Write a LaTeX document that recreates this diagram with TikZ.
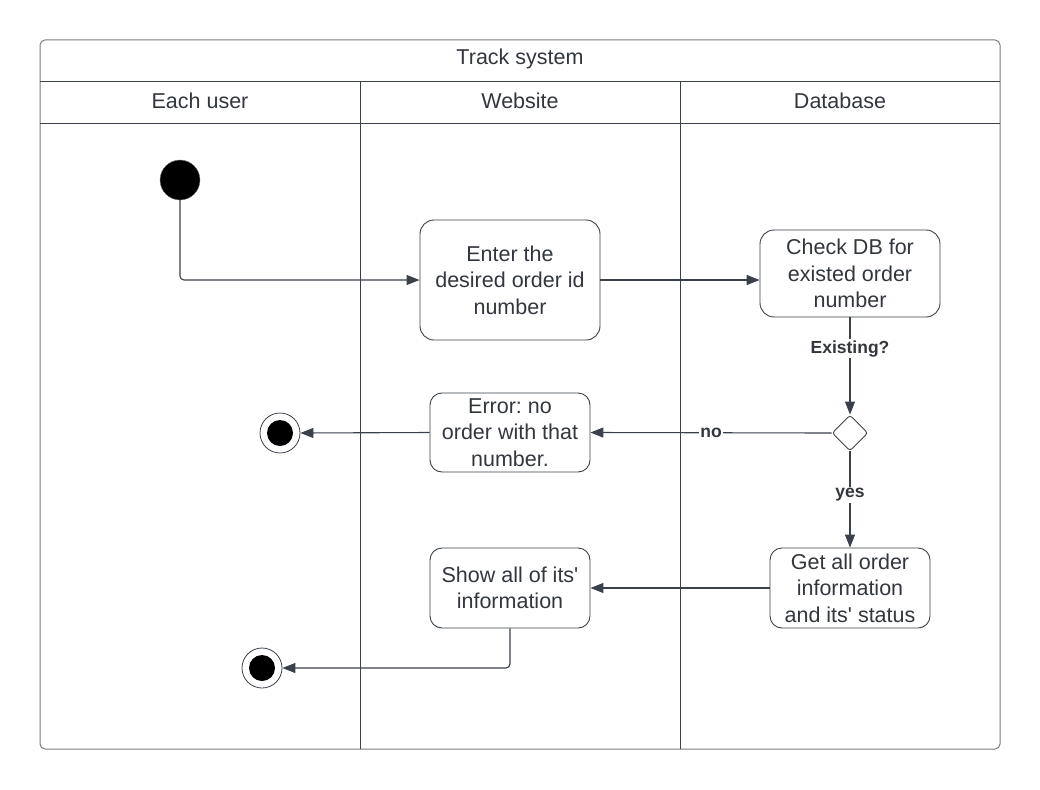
\documentclass[tikz,border=0pt]{standalone}
\usepackage{fontspec}
\setmainfont{Liberation Sans}
\usepackage{tikz}
\usetikzlibrary{shapes.geometric,arrows.meta,positioning,calc}
\definecolor{lineC}{RGB}{58,65,74}
\definecolor{textC}{RGB}{50,55,62}
\definecolor{frameC}{RGB}{125,125,125}
\frenchspacing
\newcommand{\apos}{\textquotesingle}

\begin{document}
\begin{tikzpicture}[x=1pt, y=-1pt,
    every node/.style={text=textC, align=center, inner sep=1pt},
    action/.style={draw=lineC, line width=0.9pt, rounded corners=14pt,
      font=\fontsize{21.5}{26.5}\selectfont},
    lane/.style={font=\fontsize{21.5}{24}\selectfont},
    guard/.style={fill=white, font=\bfseries\fontsize{17.5}{20}\selectfont, inner sep=1.5pt},
    flow/.style={draw=lineC, line width=1.1pt, -{Triangle[length=13pt,width=10pt]}},
    startdot/.style={circle, fill=black, draw=frameC, minimum size=40pt, inner sep=0pt},
    enddot/.style={circle, fill=white, draw=lineC, line width=0.8pt, minimum size=40pt, inner sep=0pt,
      path picture={\fill[black] (path picture bounding box.center) circle (13pt);}}
  ]
    \useasboundingbox (0,0) rectangle (1040,789);
    % Swimlanes
    \draw[frameC, line width=1pt, rounded corners=5pt] (40,40) rectangle (1000,749);
    \draw[lineC, line width=0.9pt] (40,81) -- (1000,81) (40,123) -- (1000,123)
      (360,81) -- (360,749) (680,81) -- (680,749);
    \node[lane] (title) at (520,59) {Track system};
    \node[lane] (laneU) at (200,101) {Each user};
    \node[lane] (laneW) at (520,101) {Website};
    \node[lane] (laneD) at (840,101) {Database};
    % Nodes
    \node[startdot] (start) at (180,180) {};
    \node[action, minimum width=180pt, minimum height=120pt] (enter) at (510,280) {Enter the\\desired order id\\number};
    \node[action, minimum width=180pt, minimum height=87pt] (check) at (850,273.5) {Check DB for\\existed order\\number};
    \node[diamond, draw=lineC, line width=0.9pt, minimum size=36pt, inner sep=0pt, rounded corners=3pt] (exist) at (850,433) {};
    \node[action, rounded corners=12pt, minimum width=160pt, minimum height=79pt, inner sep=0pt] (error) at (510,432.5) {Error: no\\order with that\\number.};
    \node[action, rounded corners=12pt, minimum width=160pt, minimum height=80pt, inner sep=0pt] (getall) at (850,588) {Get all order\\information\\and its\apos{} status};
    \node[action, rounded corners=12pt, minimum width=160pt, minimum height=80pt, inner sep=0pt] (show) at (510,588) {Show all of its\apos\\information};
    \node[enddot] (endA) at (280,433) {};
    \node[enddot] (endB) at (262,668) {};
    % Flows
    \draw[flow, rounded corners=4pt] (start.south) |- (enter.west);
    \draw[flow] (enter.east) -- (enter.east -| check.west);
    \draw[flow] (check.south) -- (exist.north) node[guard, pos=0.32] {Existing?};
    \draw[flow] (exist.west) -- (error.east) node[guard, pos=0.5] {no};
    \draw[flow] (exist.south) -- (getall.north) node[guard, pos=0.45] {yes};
    \draw[flow] (getall.west) -- (show.east);
    \draw[flow] (error.west) -- (endA.east);
    \draw[flow, rounded corners=4pt] (show.south) |- (endB.east);
\end{tikzpicture}
\end{document}
